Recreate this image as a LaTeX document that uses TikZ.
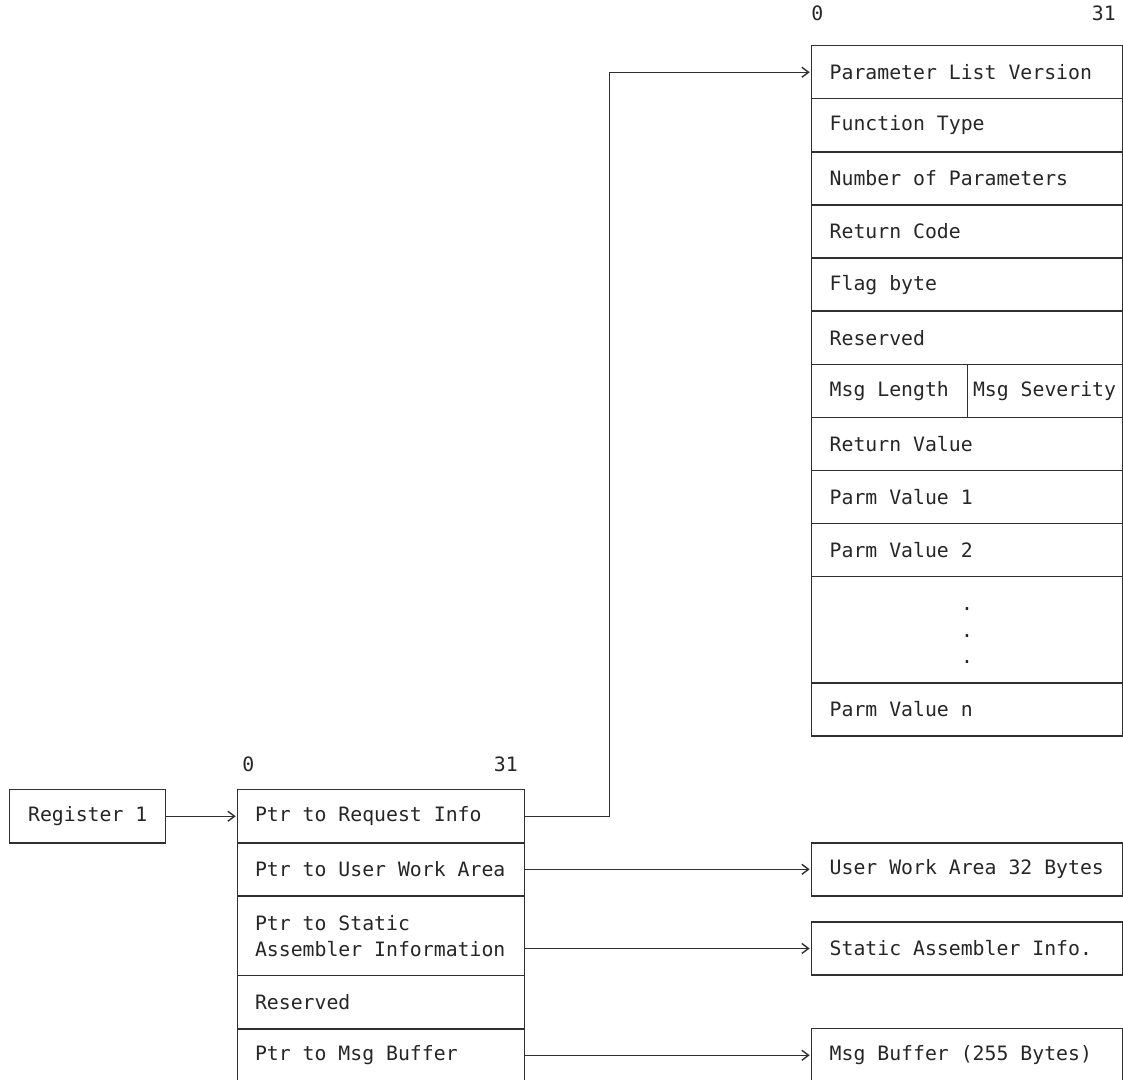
\documentclass[tikz,border=0pt]{standalone}
\usepackage{fontspec}
\newfontfamily\monofam{DejaVu Sans Mono}
\usetikzlibrary{arrows.meta}
\definecolor{linec}{HTML}{303030}
\definecolor{txtc}{HTML}{262626}
\newcommand\monotext{\monofam\fontsize{14.85pt}{19.5pt}\selectfont}
\newcommand\msp{\spaceskip=0.6021em\relax\xspaceskip=0.6021em\relax}
\tikzset{
  cell/.style={draw=linec, line width=1.05pt, rectangle, anchor=north west,
    inner ysep=0pt, align=left, font=\monotext, text=txtc, execute at begin node=\msp},
  rcell/.style={cell, minimum width=233.25pt, inner xsep=13.5pt, text width=206.25pt, minimum height=39.825pt},
  lcell/.style={cell, minimum width=215.25pt, inner xsep=13pt, text width=189.25pt, minimum height=39.825pt},
  lbl/.style={font=\monotext, text=txtc, inner sep=0pt},
  arr/.style={draw=linec, line width=1.05pt, -{Straight Barb[length=5pt,width=7.5pt]}, shorten >=1pt},
}
\begin{document}
\begin{tikzpicture}[x=0.75pt,y=-0.75pt]
\useasboundingbox (0,0) rectangle (1123,1080);
% right parameter list
\node[lbl, anchor=base west] (z1) at (811,21) {0};
\node[lbl, anchor=base east] (t1) at (1116,21) {31};
\node[rcell] (p1) at (811,45) {\msp Parameter List Version};
\node[rcell] (p2) at (811,98.1) {\msp Function Type};
\node[rcell] (p3) at (811,151.2) {\msp Number of Parameters};
\node[rcell] (p4) at (811,204.3) {\msp Return Code};
\node[rcell] (p5) at (811,257.4) {\msp Flag byte};
\node[rcell] (p6) at (811,310.5) {\msp Reserved};
\node[cell, minimum width=117pt, inner xsep=13.5pt, text width=90pt, minimum height=39.825pt] (p7a) at (811,363.6) {\msp Msg Length};
\node[cell, minimum width=116.25pt, inner xsep=4pt, text width=108.25pt, minimum height=39.825pt] (p7b) at (967,363.6) {\msp Msg Severity};
\node[rcell] (p8) at (811,416.7) {\msp Return Value};
\node[rcell] (p9) at (811,469.8) {\msp Parm Value 1};
\node[rcell] (p10) at (811,522.9) {\msp Parm Value 2};
\node[rcell, minimum height=79.65pt] (p11) at (811,576) {};
\node[lbl, anchor=base] (d1) at (967,610.5) {.};
\node[lbl, anchor=base] (d2) at (967,637) {.};
\node[lbl, anchor=base] (d3) at (967,663.5) {.};
\node[rcell] (p12) at (811,682.2) {\msp Parm Value n};
% lower list
\node[lbl, anchor=base west] (z2) at (242,771) {0};
\node[lbl, anchor=base east] (t2) at (518,771) {31};
\node[cell, minimum width=117pt, minimum height=39.825pt, align=center] (reg) at (9,789) {\msp Register 1};
\node[lcell] (r1) at (237,789) {\msp Ptr to Request Info};
\node[lcell] (r2) at (237,842.1) {\msp Ptr to User Work Area};
\node[lcell, minimum height=59.85pt] (r3) at (237,895.2) {\msp Ptr to Static\\Assembler Information};
\node[lcell] (r4) at (237,975) {\msp Reserved};
\node[lcell] (r5) at (237,1028) {\msp Ptr to Msg Buffer};
% targets
\node[rcell] (uwa) at (811,842.1) {\msp User Work Area 32 Bytes};
\node[rcell] (sai) at (811,921.2) {\msp Static Assembler Info.};
\node[rcell] (mb) at (811,1028) {\msp Msg Buffer (255 Bytes)};
% connectors
\draw[arr] (reg) -- (r1);
\path (r1.east) -- ++(84,0) coordinate (k1);
\draw[arr] (r1.east) -- (k1) |- (p1.west);
\draw[arr] (r2.east) -- (uwa.west);
\draw[arr] (r3.east |- sai.west) -- (sai.west);
\draw[arr] (r5.east) -- (mb.west);
\end{tikzpicture}
\end{document}
